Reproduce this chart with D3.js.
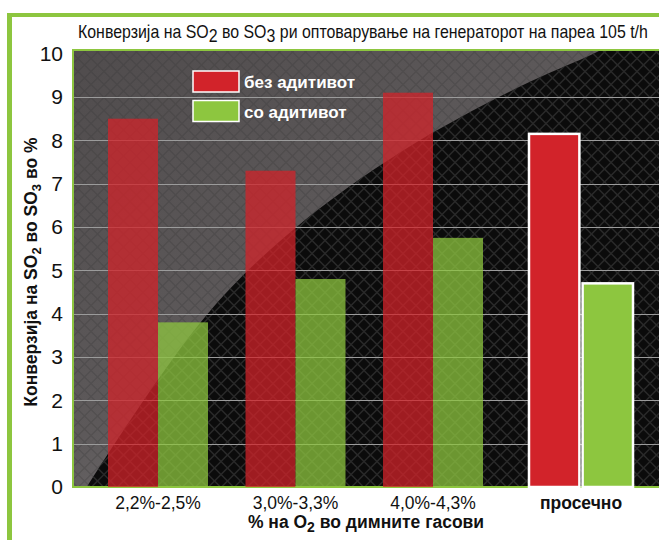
<!DOCTYPE html>
<html>
<head>
<meta charset="utf-8">
<script src="https://cdn.jsdelivr.net/npm/d3@7"></script>
<style>
  body { margin: 0; background: #fff; }
  svg { display: block; }
  text { font-family: "Liberation Sans", Arial, sans-serif; }
</style>
</head>
<body>
<div id="chart"></div>
<script>
// data
var categories = ["2,2%-2,5%", "3,0%-3,3%", "4,0%-4,3%", "просечно"];
var seriesNames = ["без адитивот", "со адитивот"];
var withoutAdditive = [8.5, 7.3, 9.1, 8.15];
var withAdditive = [3.8, 4.8, 5.75, 4.7];
var yTicks = [0, 1, 2, 3, 4, 5, 6, 7, 8, 9, 10];
var gridTicks = [1, 2, 3, 4, 5, 6, 7, 8, 9];

var w = 659;
var h = 540;
var plot = { left: 73, top: 50, right: 659, bottom: 487 };
var avgName = "просечно";
var avgShift = 10.5;
var green = "#8dc63f";
var red = "#d2232a";
var colors = [red, green];

var rows = categories.map(function(c, i) {
    return { cat: c, values: [withoutAdditive[i], withAdditive[i]] };
});

var svg = d3.select("#chart")
            .append("svg")
            .attr("width", w)
            .attr("height", h);

var defs = svg.append("defs");
defs.append("clipPath").attr("id", "plotclip")
    .append("rect")
    .attr("x", plot.left).attr("y", plot.top)
    .attr("width", plot.right - plot.left).attr("height", plot.bottom - plot.top);

var grad = defs.append("linearGradient").attr("id", "grayfade")
    .attr("x1", 0).attr("y1", 0).attr("x2", 1).attr("y2", 1);
grad.append("stop").attr("offset", "0%").attr("stop-color", "#504c4d");
grad.append("stop").attr("offset", "45%").attr("stop-color", "#5d595a");
grad.append("stop").attr("offset", "70%").attr("stop-color", "#777475");

// knit-like diamond texture
var pat = defs.append("pattern").attr("id", "knit")
    .attr("patternUnits", "userSpaceOnUse")
    .attr("width", 13).attr("height", 13);
pat.append("path")
    .attr("d", "M0,6.5 L6.5,0 L13,6.5 L6.5,13 Z")
    .attr("fill", "none")
    .attr("stroke", "#333")
    .attr("stroke-width", 1.5);

// outer green frame
svg.append("rect").attr("x", 7).attr("y", 13).attr("width", w - 7).attr("height", 4).attr("fill", green);
svg.append("rect").attr("x", 7).attr("y", 13).attr("width", 5).attr("height", h - 13).attr("fill", green);

// scales
var x0 = d3.scaleBand()
    .domain(categories)
    .range([89.25, 639.25])
    .paddingInner(0.2727)
    .paddingOuter(0.13635);
var x1 = d3.scaleBand().domain(seriesNames).range([0, x0.bandwidth()]).padding(0);
var x1avg = d3.scaleBand().domain(seriesNames).range([0, x0.bandwidth() + 4]).paddingInner(0.06);
var y = d3.scaleLinear().domain([0, 10]).range([plot.bottom, 53.7]);

function groupX(c) {
    return x0(c) + (c === avgName ? avgShift - 2 : 0);
}

// background
var bg = svg.append("g").attr("clip-path", "url(#plotclip)");
bg.append("rect")
    .attr("x", plot.left).attr("y", plot.top)
    .attr("width", plot.right - plot.left).attr("height", plot.bottom - plot.top)
    .attr("fill", "url(#grayfade)");
bg.append("rect")
    .attr("x", plot.left).attr("y", plot.top)
    .attr("width", plot.right - plot.left).attr("height", plot.bottom - plot.top)
    .attr("fill", "url(#knit)")
    .attr("opacity", 0.25);
var edge = [[80, 500], [87, 487], [205, 317], [293, 230], [404, 150], [519, 87], [595, 53], [620, 40]];
var darkPath = d3.line().curve(d3.curveCatmullRom)(edge) + " L700,40 L700,500 Z";
bg.append("path")
    .attr("d", darkPath)
    .attr("fill", "#0b0b0b");
bg.append("path")
    .attr("d", darkPath)
    .attr("fill", "url(#knit)")
    .attr("opacity", 0.75);

// gridlines
svg.append("g")
    .selectAll("line")
    .data(gridTicks)
    .enter()
    .append("line")
    .attr("x1", plot.left).attr("x2", plot.right)
    .attr("y1", (d) => Math.round(y(d)) + 0.5)
    .attr("y2", (d) => Math.round(y(d)) + 0.5)
    .attr("stroke", "#9b9b9b")
    .attr("stroke-width", 1.2);

// plot border
svg.append("path")
    .attr("d", "M" + plot.right + "," + plot.top + "H" + plot.left + "V" + plot.bottom + "H" + plot.right)
    .attr("fill", "none")
    .attr("stroke", green)
    .attr("stroke-width", 2);

// bars
var groups = svg.selectAll(".grp")
    .data(rows)
    .enter()
    .append("g")
    .attr("class", "grp")
    .attr("transform", (d) => "translate(" + groupX(d.cat) + ",0)");

groups.selectAll("rect")
    .data((d) => d.values.map(function(v, i) { return { cat: d.cat, name: seriesNames[i], value: v, i: i }; }))
    .enter()
    .append("rect")
    .attr("x", (d) => d.cat === avgName ? x1avg(d.name) : x1(d.name))
    .attr("y", (d) => y(d.value))
    .attr("width", (d) => d.cat === avgName ? x1avg.bandwidth() : x1.bandwidth())
    .attr("height", (d) => y(0) - y(d.value))
    .attr("fill", (d) => colors[d.i])
    .attr("fill-opacity", (d) => d.cat === avgName ? 1 : 0.75)
    .attr("stroke", (d) => d.cat === avgName ? "#fff" : "none")
    .attr("stroke-width", 2.5);

// y axis labels
var yAxis = d3.axisLeft(y).tickValues(yTicks).tickSize(0).tickPadding(10).tickFormat(d3.format("d"));
var gy = svg.append("g")
    .attr("transform", "translate(" + plot.left + ",0)")
    .call(yAxis);
gy.select(".domain").remove();
gy.selectAll("text")
    .attr("font-size", 21)
    .attr("fill", "#111")
    .style("font-family", "'Liberation Sans', Arial, sans-serif");

// x axis labels
var xAxis = d3.axisBottom(x0).tickSize(0).tickPadding(0);
var gx = svg.append("g")
    .attr("transform", "translate(0," + plot.bottom + ")")
    .call(xAxis);
gx.select(".domain").remove();
gx.selectAll(".tick")
    .attr("transform", (d) => "translate(" + (x0(d) + x0.bandwidth() / 2 + (d === avgName ? avgShift : 0)) + ",0)");
gx.selectAll("text")
    .attr("dy", null)
    .attr("y", 22)
    .attr("font-size", 17.5)
    .attr("font-weight", (d) => d === avgName ? "bold" : "normal")
    .attr("fill", "#111")
    .style("font-family", "'Liberation Sans', Arial, sans-serif");

// x axis title
var xt = svg.append("text")
    .attr("x", 366).attr("y", 528)
    .attr("text-anchor", "middle")
    .attr("font-size", 17.5)
    .attr("font-weight", "bold")
    .attr("fill", "#111");
xt.append("tspan").text("% на O");
xt.append("tspan").attr("dy", 4).attr("font-size", 14).text("2");
xt.append("tspan").attr("dy", -4).text(" во димните гасови");

// y axis title
var yt = svg.append("text")
    .attr("transform", "translate(37,272) rotate(-90)")
    .attr("text-anchor", "middle")
    .attr("font-size", 17.5)
    .attr("font-weight", "bold")
    .attr("fill", "#111");
yt.append("tspan").text("Конверзија на SO");
yt.append("tspan").attr("dy", 4).attr("font-size", 13).text("2");
yt.append("tspan").attr("dy", -4).text(" во SO");
yt.append("tspan").attr("dy", 4).attr("font-size", 13).text("3");
yt.append("tspan").attr("dy", -4).text(" во %");

// chart title, squeezed like a narrow face
var tt = svg.append("text")
    .attr("x", 0).attr("y", 0)
    .attr("font-size", 17.5)
    .attr("fill", "#111");
tt.append("tspan").text("Конверзија на SO");
tt.append("tspan").attr("dy", 4).text("2");
tt.append("tspan").attr("dy", -4).text(" во SO");
tt.append("tspan").attr("dy", 4).text("3");
tt.append("tspan").attr("dy", -4).text(" ри оптоварување на генераторот на пареа 105 t/h");
var tlen = tt.node().getComputedTextLength();
tt.attr("transform", "translate(78,37.5) scale(" + (570 / tlen) + ",1)");

// legend
var legend = svg.append("g").attr("transform", "translate(193,71)");
seriesNames.forEach(function(name, i) {
    legend.append("rect")
        .attr("x", 0).attr("y", i * 29.5)
        .attr("width", 46).attr("height", 21)
        .attr("fill", colors[i])
        .attr("stroke", "#fff")
        .attr("stroke-width", 1.5);
    legend.append("text")
        .attr("x", 51).attr("y", i * 29.5 + 17)
        .attr("font-size", 17)
        .attr("font-weight", "bold")
        .attr("fill", "#fff")
        .text(name);
});
</script>
</body>
</html>
